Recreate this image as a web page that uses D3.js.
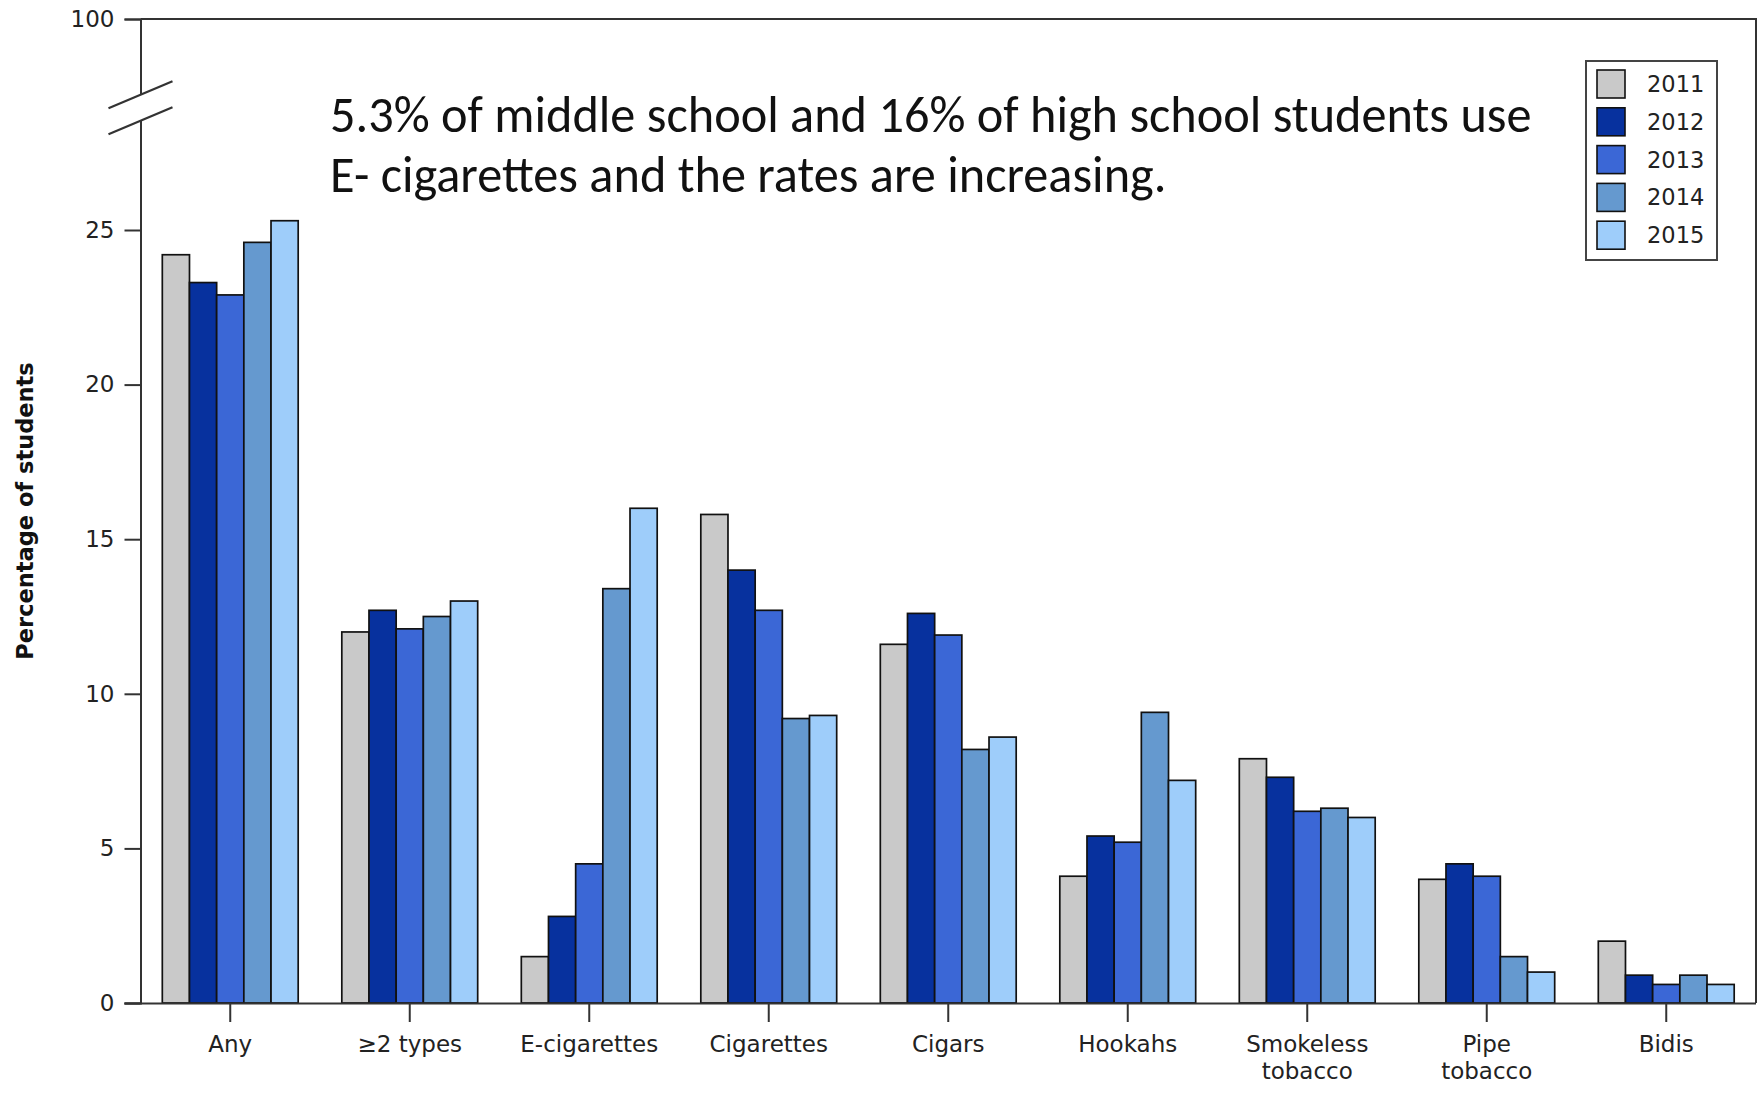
<!DOCTYPE html>
<html>
<head>
<meta charset="utf-8">
<script src="https://cdn.jsdelivr.net/npm/d3@7"></script>
<style>
  html, body { margin: 0; padding: 0; background: #fff; }
  svg { display: block; }
</style>
</head>
<body>
<svg id="chart" width="1763" height="1098"></svg>
<script>
// Tobacco product use among high school students, 2011–2015
const categories = ["Any", "≥2 types", "E-cigarettes", "Cigarettes", "Cigars", "Hookahs", "Smokeless\ntobacco", "Pipe\ntobacco", "Bidis"];
const years = ["2011", "2012", "2013", "2014", "2015"];
const v2011 = [24.2, 12.0, 1.5, 15.8, 11.6, 4.1, 7.9, 4.0, 2.0];
const v2012 = [23.3, 12.7, 2.8, 14.0, 12.6, 5.4, 7.3, 4.5, 0.9];
const v2013 = [22.9, 12.1, 4.5, 12.7, 11.9, 5.2, 6.2, 4.1, 0.6];
const v2014 = [24.6, 12.5, 13.4, 9.2, 8.2, 9.4, 6.3, 1.5, 0.9];
const v2015 = [25.3, 13.0, 16.0, 9.3, 8.6, 7.2, 6.0, 1.0, 0.6];
const yTicks = [0, 5, 10, 15, 20, 25, 100];
const yearColors = ["#c9c9c9", "#07319e", "#3b67d6", "#6599cf", "#9ecdfa"];
const yLabel = "Percentage of students";
const noteLines = [
  "5.3% of middle school and 16% of high school students use",
  "E- cigarettes and the rates are increasing."
];

const series = [v2011, v2012, v2013, v2014, v2015];
const rows = categories.map((c, i) => ({ cat: c, vals: years.map((yr, j) => ({ year: yr, value: series[j][i] })) }));

const svg = d3.select("#chart");
const plot = { left: 140.5, right: 1756, top: 19, bottom: 1003 };
const tickFont = "'DejaVu Sans', Verdana, sans-serif";

// Broken value axis: regular scale up to the break, then a jump to 100
const breakAt = 28.5;
const pxPerUnit = (plot.bottom - 230) / 25;
const y = d3.scaleLinear().domain([0, breakAt, 100])
  .range([plot.bottom, plot.bottom - breakAt * pxPerUnit, plot.top]);
const x0 = d3.scaleBand().domain(categories).range([plot.left, plot.right]).paddingInner(0.243).paddingOuter(0.1215);
const x1 = d3.scaleBand().domain(years).range([0, x0.bandwidth()]);
const color = d3.scaleOrdinal().domain(years).range(yearColors);

// Bars
const groups = svg.append("g").selectAll("g").data(rows).join("g")
  .attr("transform", d => `translate(${x0(d.cat)},0)`);
groups.selectAll("rect").data(d => d.vals).join("rect")
  .attr("x", d => x1(d.year))
  .attr("y", d => y(d.value))
  .attr("width", x1.bandwidth())
  .attr("height", d => y(0) - y(d.value))
  .attr("fill", d => color(d.year))
  .attr("stroke", "#111")
  .attr("stroke-width", 1.7);

// Frame: top and right edges
svg.append("path")
  .attr("d", `M${plot.left},${plot.top}H${plot.right}V${plot.bottom}`)
  .attr("fill", "none").attr("stroke", "#333").attr("stroke-width", 2);

// Y axis
const yAxis = svg.append("g").attr("transform", `translate(${plot.left},0)`)
  .call(d3.axisLeft(y).tickValues(yTicks).tickSize(16).tickPadding(10).tickFormat(d3.format("d")));
yAxis.select(".domain").attr("stroke", "#333").attr("stroke-width", 2);
yAxis.selectAll(".tick line").attr("stroke", "#333").attr("stroke-width", 2);
yAxis.selectAll(".tick text").attr("font-family", tickFont).attr("font-size", 23).attr("fill", "#222");

// X axis
const xAxis = svg.append("g").attr("transform", `translate(0,${plot.bottom})`)
  .call(d3.axisBottom(x0).tickSize(19).tickPadding(0).tickSizeOuter(0));
xAxis.select(".domain").attr("stroke", "#333").attr("stroke-width", 2)
  .attr("d", `M${plot.left - 16},0.5H${plot.right}`);
xAxis.selectAll(".tick line").attr("stroke", "#333").attr("stroke-width", 2);
xAxis.selectAll(".tick text").each(function (d) {
  const t = d3.select(this).text(null).attr("dy", null).attr("y", null)
    .attr("font-family", tickFont).attr("font-size", 23).attr("fill", "#222");
  d.split("\n").forEach((line, i) => {
    t.append("tspan").attr("x", 0).attr("y", 49 + i * 27).text(line);
  });
});

// Axis break marks, just above the end of the regular segment
const bBot = y(breakAt) - 1;
const bTop = bBot - 26;
svg.append("rect").attr("x", plot.left - 3).attr("y", bTop).attr("width", 6).attr("height", bBot - bTop).attr("fill", "#fff");
[bTop, bBot].forEach(by => {
  svg.append("line")
    .attr("x1", plot.left - 32).attr("y1", by + 13.5)
    .attr("x2", plot.left + 32).attr("y2", by - 13.5)
    .attr("stroke", "#333").attr("stroke-width", 2.2);
});

// Y axis title
svg.append("text")
  .attr("transform", `translate(33,511) rotate(-90)`)
  .attr("text-anchor", "middle")
  .attr("font-family", tickFont).attr("font-weight", "bold").attr("font-size", 22.5)
  .attr("fill", "#111").text(yLabel);

// Note
const note = svg.append("g");
noteLines.forEach((line, i) => {
  note.append("text")
    .attr("x", 330).attr("y", 132 + i * 60)
    .attr("font-family", "Carlito, Lato, 'Open Sans', sans-serif").attr("font-size", 40)
    .attr("fill", "#111").text(line);
});
// scale the note so the first line spans the intended width
const firstLine = note.select("text").node();
const w = firstLine.getComputedTextLength();
note.selectAll("text").attr("font-size", 40 * 1202 / w);

// Legend
const legend = svg.append("g").attr("transform", "translate(1586,61)");
legend.append("rect").attr("width", 131).attr("height", 199)
  .attr("fill", "#fff").attr("stroke", "#444").attr("stroke-width", 2);
const items = legend.selectAll("g").data(years).join("g")
  .attr("transform", (d, i) => `translate(11,${9 + i * 37.8})`);
items.append("rect").attr("width", 28).attr("height", 28)
  .attr("fill", d => color(d)).attr("stroke", "#111").attr("stroke-width", 1.6);
items.append("text").attr("x", 50).attr("y", 14).attr("dy", "0.36em")
  .attr("font-family", tickFont).attr("font-size", 22.5).attr("fill", "#222").text(d => d);
</script>
</body>
</html>
